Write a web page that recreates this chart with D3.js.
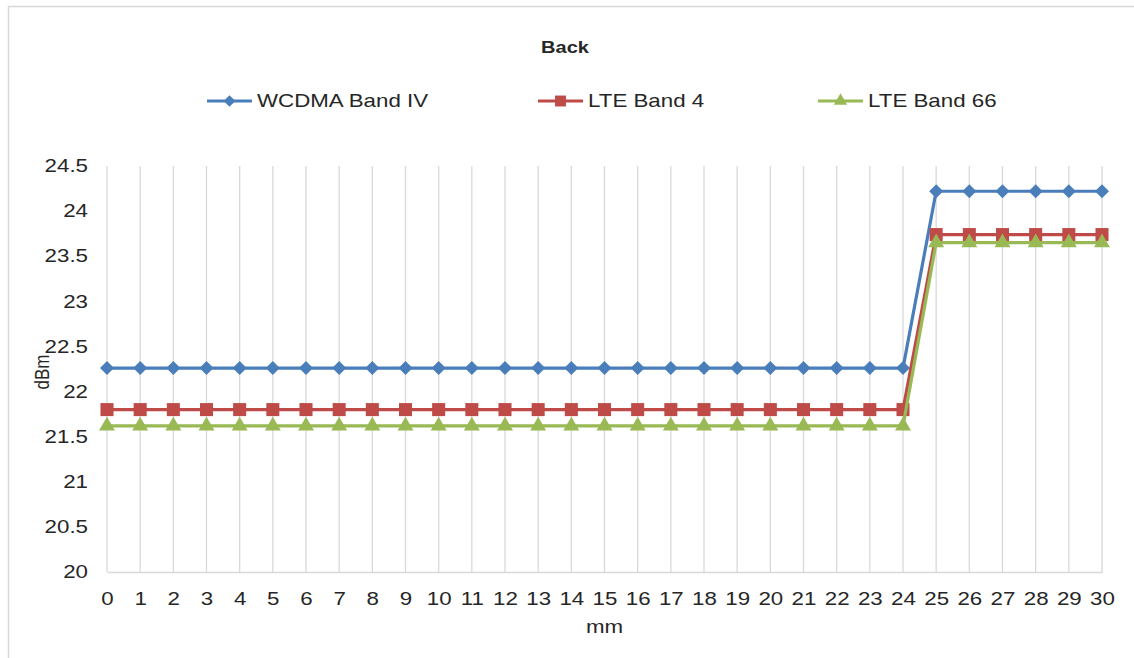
<!DOCTYPE html>
<html>
<head>
<meta charset="utf-8">
<script src="https://cdn.jsdelivr.net/npm/d3@7"></script>
<style>
  body { margin: 0; background: #fff; }
  text { font-family: "Liberation Sans", Arial, sans-serif; fill: #262626; }
</style>
</head>
<body>
<div id="chart"></div>
<script>
// data
var positions = d3.range(0, 31);
var wcdmaBandIV = [22.26, 22.26, 22.26, 22.26, 22.26, 22.26, 22.26, 22.26, 22.26, 22.26,
  22.26, 22.26, 22.26, 22.26, 22.26, 22.26, 22.26, 22.26, 22.26, 22.26,
  22.26, 22.26, 22.26, 22.26, 22.26, 24.22, 24.22, 24.22, 24.22, 24.22, 24.22];
var lteBand4 = [21.8, 21.8, 21.8, 21.8, 21.8, 21.8, 21.8, 21.8, 21.8, 21.8,
  21.8, 21.8, 21.8, 21.8, 21.8, 21.8, 21.8, 21.8, 21.8, 21.8,
  21.8, 21.8, 21.8, 21.8, 21.8, 23.74, 23.74, 23.74, 23.74, 23.74, 23.74];
var lteBand66 = [21.62, 21.62, 21.62, 21.62, 21.62, 21.62, 21.62, 21.62, 21.62, 21.62,
  21.62, 21.62, 21.62, 21.62, 21.62, 21.62, 21.62, 21.62, 21.62, 21.62,
  21.62, 21.62, 21.62, 21.62, 21.62, 23.65, 23.65, 23.65, 23.65, 23.65, 23.65];
var yTicks = [20, 20.5, 21, 21.5, 22, 22.5, 23, 23.5, 24, 24.5];
var seriesNames = ["WCDMA Band IV", "LTE Band 4", "LTE Band 66"];

// the original picture is a little stretched sideways
var stretch = 1.24;

var series = [
  { name: seriesNames[0], values: wcdmaBandIV, color: "#4a7ebb", symbol: d3.symbolSquare, size: 98, rot: 45, legendX: 207 },
  { name: seriesNames[1], values: lteBand4, color: "#be4b48", symbol: d3.symbolSquare, size: 170, rot: 0, legendX: 538 },
  { name: seriesNames[2], values: lteBand66, color: "#98b954", symbol: d3.symbolTriangle, size: 110, rot: 0, legendX: 818 }
];

var svgWidth = 1134;
var svgHeight = 658;
var margin = { top: 166, right: 32, bottom: 86, left: 107 };
var width = svgWidth - margin.left - margin.right;
var height = svgHeight - margin.top - margin.bottom;

var svg = d3.select("#chart")
  .append("svg")
  .attr("width", svgWidth)
  .attr("height", svgHeight);

// chart border (only top & left visible in the crop)
svg.append("path")
  .attr("d", "M8.5,658 L8.5,6.5 L1134,6.5")
  .attr("fill", "none")
  .attr("stroke", "#d9d9d9")
  .attr("stroke-width", 1.5);

var chartGroup = svg.append("g")
  .attr("transform", `translate(${margin.left}, ${margin.top})`);

// scales
var xScale = d3.scaleLinear().domain([0, 30]).range([0, width]);
var yScale = d3.scaleLinear().domain([20, 24.5]).range([height, 0]);

// vertical gridlines
chartGroup.append("g")
  .selectAll("line")
  .data(positions)
  .enter()
  .append("line")
  .attr("x1", d => xScale(d))
  .attr("x2", d => xScale(d))
  .attr("y1", 0)
  .attr("y2", height)
  .attr("stroke", "#d9d9d9")
  .attr("stroke-width", 1.3);

// x axis
var bottomAxis = d3.axisBottom(xScale).tickValues(positions).tickSize(0).tickPadding(20);
var xAxis = chartGroup.append("g")
  .attr("transform", `translate(0, ${height})`)
  .call(bottomAxis);
xAxis.select(".domain").attr("stroke", "#d9d9d9").attr("stroke-width", 1.5);
xAxis.selectAll("text")
  .attr("font-size", "18px")
  .attr("fill", "#262626")
  .attr("font-family", "'Liberation Sans', Arial, sans-serif")
  .attr("transform", `scale(${stretch},1)`);

// y axis
var leftAxis = d3.axisLeft(yScale).tickValues(yTicks).tickSize(0)
  .tickFormat(d3.format("~g"));
var yAxis = chartGroup.append("g").call(leftAxis);
yAxis.select(".domain").remove();
yAxis.selectAll("text")
  .attr("x", -19 / stretch)
  .attr("font-size", "18px")
  .attr("fill", "#262626")
  .attr("font-family", "'Liberation Sans', Arial, sans-serif")
  .attr("transform", `scale(${stretch},1)`);

// lines & markers
var line = d3.line()
  .x((d, i) => xScale(positions[i]))
  .y(d => yScale(d));

series.forEach(function(s) {
  chartGroup.append("path")
    .datum(s.values)
    .attr("d", line)
    .attr("fill", "none")
    .attr("stroke", s.color)
    .attr("stroke-width", 3.2)
    .attr("stroke-linejoin", "round");

  chartGroup.append("g")
    .selectAll("path")
    .data(s.values)
    .enter()
    .append("path")
    .attr("d", d3.symbol().type(s.symbol).size(s.size))
    .attr("transform", (d, i) => `translate(${xScale(positions[i])}, ${yScale(d)}) rotate(${s.rot})`)
    .attr("fill", s.color);
});

// title
svg.append("text")
  .attr("transform", `translate(565, 53) scale(${stretch * 0.95},1)`)
  .attr("text-anchor", "middle")
  .attr("font-size", "17px")
  .attr("font-weight", "700")
  .text("Back");

// legend
var legend = svg.append("g").attr("transform", "translate(0, 101)");
series.forEach(function(s) {
  legend.append("line")
    .attr("x1", s.legendX)
    .attr("x2", s.legendX + 45)
    .attr("stroke", s.color)
    .attr("stroke-width", 3.2);
  legend.append("path")
    .attr("d", d3.symbol().type(s.symbol).size(s.size * 0.7))
    .attr("transform", `translate(${s.legendX + 22.5}, 0) rotate(${s.rot})`)
    .attr("fill", s.color);
  legend.append("text")
    .attr("transform", `translate(${s.legendX + 50}, 0) scale(${stretch},1)`)
    .attr("dy", "0.35em")
    .attr("font-size", "18px")
    .text(s.name);
});

// axis labels
chartGroup.append("text")
  .attr("transform", `translate(${0 - margin.left + 49}, 206) rotate(-90) scale(1,${stretch})`)
  .attr("text-anchor", "middle")
  .attr("font-size", "17px")
  .text("dBm");

chartGroup.append("text")
  .attr("transform", `translate(${width / 2}, ${height + 61}) scale(${stretch},1)`)
  .attr("text-anchor", "middle")
  .attr("font-size", "18px")
  .text("mm");
</script>
</body>
</html>
